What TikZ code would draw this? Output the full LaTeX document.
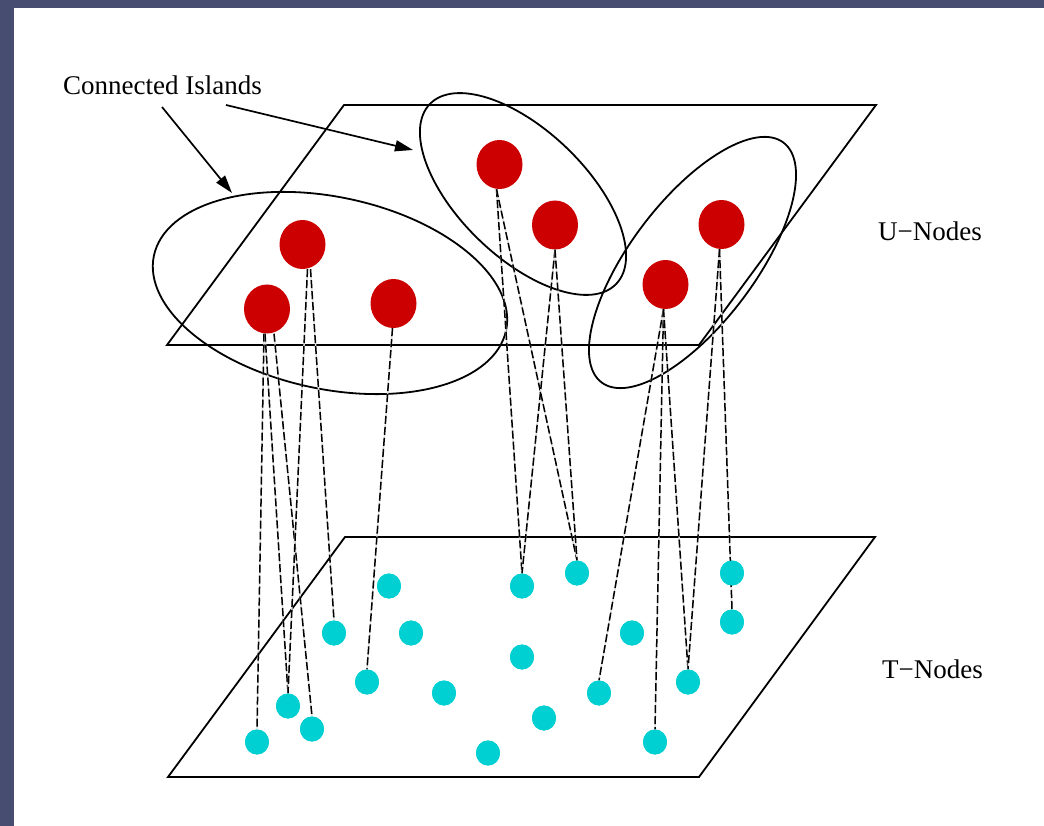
\documentclass[tikz,border=0pt]{standalone}
\usepackage{fontspec}
\setmainfont{Liberation Serif}
\usetikzlibrary{shapes.geometric,arrows.meta}
\definecolor{framecol}{RGB}{70,77,113}
\definecolor{ured}{RGB}{204,0,0}
\definecolor{tcyan}{RGB}{0,208,210}
\tikzset{
  plane/.style={draw=black, line width=1.8pt, line join=miter},
  island/.style={draw=black, line width=1.8pt, ellipse, inner sep=0pt, outer sep=0pt},
  unode/.style={ellipse, fill=ured, draw=none, minimum width=46pt, minimum height=49pt, inner sep=0pt},
  tnode/.style={ellipse, fill=tcyan, draw=none, minimum width=24pt, minimum height=25pt, inner sep=0pt},
  conn/.style={draw=black, line width=1.5pt, dash pattern=on 8pt off 3pt,
    preaction={draw=black!12, line width=1.5pt, solid}},
  pointer/.style={draw=black, line width=1.7pt, -{Triangle[length=18pt,width=11pt]}},
  lbl/.style={font=\fontsize{27}{30}\selectfont, inner sep=0pt, anchor=base west}
}
\begin{document}
\begin{tikzpicture}[x=1pt,y=-1pt]
\useasboundingbox (0,0) rectangle (1044,826);
\fill[framecol] (0,0) rectangle (1044,826);
\fill[white] (14,8) rectangle (1044,826);

% planes
\draw[plane] (344,105) -- (876,105) -- (699,345) -- (167,345) -- cycle;
\draw[plane] (345,537) -- (875,537) -- (699,777) -- (168,777) -- cycle;

% islands
\node[island, minimum width=360pt, minimum height=192pt, rotate=-12] (isl1) at (330,293) {};
\node[island, minimum width=259pt, minimum height=127pt, rotate=-44] (isl2) at (523,194) {};
\node[island, minimum width=301pt, minimum height=124pt, rotate=52.8] (isl3) at (692.5,262.5) {};

% labels
\node[lbl] (ci) at (63,95) {Connected Islands};
\node[lbl] (ul) at (878,241) {U−Nodes};
\node[lbl] (tl) at (882,678) {T−Nodes};

% pointers
\coordinate (p1s) at (162,107);
\coordinate (p1e) at (232,193);
\coordinate (p2s) at (226,105);
\coordinate (p2e) at (413,150);
\draw[pointer] (p1s) -- (p1e);
\draw[pointer] (p2s) -- (p2e);

% U nodes
\node[unode] (ua) at (267,309) {};
\node[unode] (ub) at (302.5,244.5) {};
\node[unode] (uc) at (393.5,303.5) {};
\node[unode] (ud) at (499.5,164.5) {};
\node[unode] (ue) at (555,225) {};
\node[unode] (uf) at (665.5,284.5) {};
\node[unode] (ug) at (721.5,224.5) {};

% T node positions
\coordinate (c1) at (389,586);
\coordinate (c2) at (522,586);
\coordinate (c3) at (577,573);
\coordinate (c4) at (732,573);
\coordinate (c5) at (334,633);
\coordinate (c6) at (411,633);
\coordinate (c7) at (632,633);
\coordinate (c8) at (732,622);
\coordinate (c9) at (522,657);
\coordinate (c10) at (367,682);
\coordinate (c11) at (444,693);
\coordinate (c12) at (599,693);
\coordinate (c13) at (688,682);
\coordinate (c14) at (288,706);
\coordinate (c15) at (312,729);
\coordinate (c16) at (257,742);
\coordinate (c17) at (544,718);
\coordinate (c18) at (488,753);
\coordinate (c19) at (655,742);
\foreach \i in {1,...,19} { \node[tnode] (t\i) at (c\i) {}; }

% connectors
\draw[conn] ([xshift=-3pt]ua.south) -- (t16.north);
\draw[conn] ([xshift=-2pt]ua.south) -- (t14.north);
\draw[conn] ([xshift=7pt]ua.south) -- (t15.north);
\draw[conn] ([xshift=5pt]ub.south) -- (t14.north);
\draw[conn] ([xshift=8pt]ub.south) -- (t5.north);
\draw[conn] ([xshift=-1pt]uc.south) -- (t10.north);
\draw[conn] ([xshift=-3pt]ud.south) -- (t2.north);
\draw[conn] ([xshift=-3pt]ud.south) -- (t3.north);
\draw[conn] (ue.south) -- (t2.north);
\draw[conn] (ue.south) -- (t3.north);
\draw[conn] ([xshift=-2pt]uf.south) -- (t12.north);
\draw[conn] ([xshift=-2pt]uf.south) -- (t19.north);
\draw[conn] ([xshift=-2pt]uf.south) -- (t13.north);
\draw[conn] ([xshift=-2pt]ug.south) -- (t13.north);
\draw[conn] ([xshift=-2pt]ug.south) -- (t8.north);

% dots on top of connectors
\foreach \i in {1,...,19} { \fill[tcyan] (c\i) ellipse [x radius=12pt, y radius=12.5pt]; }
\end{tikzpicture}
\end{document}
